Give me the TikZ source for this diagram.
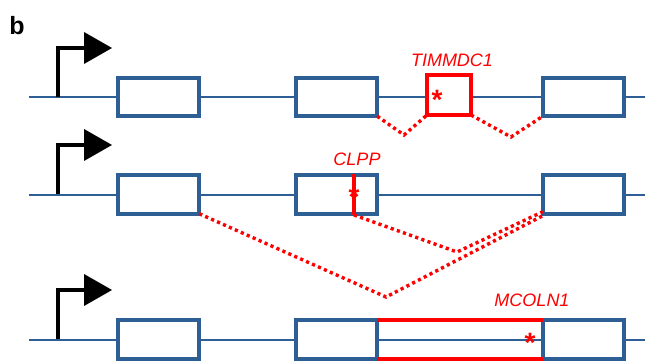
\documentclass[tikz,border=0pt]{standalone}
\usepackage{fontspec}
\setmainfont{Liberation Sans}
\definecolor{exonblue}{HTML}{2E5F94}
\definecolor{mutred}{HTML}{FF0000}
\begin{document}
\begin{tikzpicture}[x=1pt,y=-1pt,
  exon/.style={draw=exonblue,line width=3.6pt,fill=white,minimum width=81.5pt,minimum height=38.5pt,inner sep=0pt,outer sep=0pt},
  mutexon/.style={draw=mutred,line width=4.2pt,fill=white,minimum width=44pt,minimum height=40pt,inner sep=0pt,outer sep=0pt},
  backbone/.style={draw=exonblue,line width=1.3pt},
  splice/.style={draw=mutred,line width=3.4pt,dash pattern=on 3.2pt off 3.3pt},
  mutline/.style={draw=mutred,line width=4.2pt},
  promoter/.style={draw=black,line width=3.4pt},
  genelabel/.style={text=mutred,font=\fontsize{18}{18}\selectfont\itshape,inner sep=0pt},
  star/.style={text=mutred,font=\fontsize{28}{28}\selectfont\bfseries,inner sep=0pt,anchor=base}
]
\useasboundingbox (0,0) rectangle (645,363);
\node[font=\fontsize{25}{25}\selectfont\bfseries,inner sep=0pt] (lab) at (17,26) {b};

% backbones
\foreach \r/\y in {1/97,2/195,3/340}{
  \coordinate (s\r) at (29,\y);
  \coordinate (e\r) at (645,\y);
  \draw[backbone] (s\r) -- (e\r);
}

% promoters
\foreach \dy in {0,97,242}{
  \draw[promoter] (58,97+\dy) |- (86,48+\dy);
  \fill[black] (84,32+\dy) -- (112,48+\dy) -- (84,64+\dy) -- cycle;
}

% exons
\node[exon] (b11) at (158.5,97) {};
\node[exon] (b12) at (336.5,97) {};
\node[exon] (b13) at (583.5,97) {};
\node[mutexon] (tim) at (449,95) {};
\node[exon] (b21) at (158.5,194.5) {};
\node[exon] (b22) at (336.5,194.5) {};
\node[exon] (b23) at (583.5,194.5) {};
\node[exon] (b31) at (158.5,339.5) {};
\node[exon] (b32) at (336.5,339.5) {};
\node[exon] (b33) at (583.5,339.5) {};

% row 1 splicing
\coordinate (v1) at (404,135);
\coordinate (v2) at (511,137);
\draw[splice] (b12.south east) -- (v1) -- (tim.south west);
\draw[splice] (tim.south east) -- (v2) -- (b13.south west);

% row 2 CLPP
\coordinate (ct) at (354,174);
\coordinate (cb) at (354,215);
\draw[mutline] (ct) -- (cb);
\coordinate (v3) at (386,297);
\coordinate (v4) at (457,252);
\draw[splice] (b21.south east) -- (v3) -- ([yshift=-2pt]b23.south west);
\draw[splice] (cb) -- (v4) -- ([yshift=2pt]b23.south west);

% row 3 MCOLN1
\draw[mutline] (b32.north east) -- (b33.north west);
\draw[mutline] (b32.south east) -- (b33.south west);

% labels
\node[genelabel] (l1) at (452,60) {TIMMDC1};
\node[genelabel] (l2) at (357,159) {CLPP};
\node[genelabel] (l3) at (532,300) {MCOLN1};
\node[star] (a1) at (437,110) {*};
\node[star] (a2) at (354,207) {*};
\node[star] (a3) at (530,352) {*};
\end{tikzpicture}
\end{document}
